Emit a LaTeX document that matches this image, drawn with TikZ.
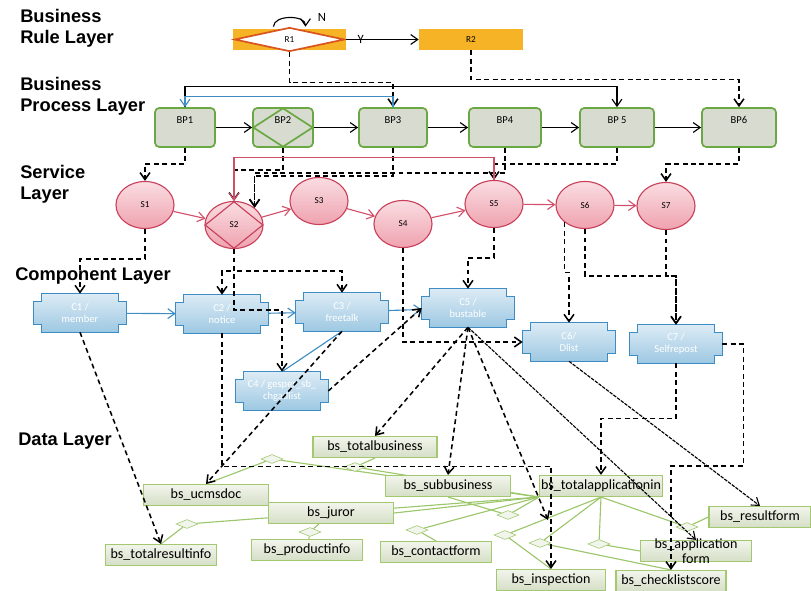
\documentclass[tikz,border=0pt]{standalone}
\usepackage{fontspec}
\setmainfont{Carlito}
\newfontfamily\layerfont{Liberation Sans}
\usetikzlibrary{arrows.meta}
\usetikzlibrary{shapes.geometric}
\usetikzlibrary{backgrounds}
\definecolor{RuleOrange}{HTML}{F5B325}
\definecolor{RuleRed}{HTML}{D9541E}
\definecolor{ProcFill}{HTML}{D8DCD0}
\definecolor{ProcLine}{HTML}{6AA843}
\definecolor{SvcLine}{HTML}{C8405A}
\definecolor{SvcTop}{HTML}{FADDE2}
\definecolor{SvcBot}{HTML}{EFA2AF}
\definecolor{PinkEdge}{HTML}{D24F6A}
\definecolor{CompLine}{HTML}{3E8CC4}
\definecolor{CompTop}{HTML}{DCEBF5}
\definecolor{CompBot}{HTML}{9DC8E2}
\definecolor{DataLine}{HTML}{A3C870}
\definecolor{DataTop}{HTML}{F2F5EC}
\definecolor{DataBot}{HTML}{D5DEC6}
\definecolor{RelGreen}{HTML}{9CC66A}
\tikzstyle{LayerText}=[anchor=north west, inner sep=0pt, align=left, font=\layerfont\bfseries\fontsize{13}{15}\selectfont]
\tikzstyle{RuleBox}=[rectangle, fill=RuleOrange, minimum width=2.825cm, minimum height=0.525cm, inner sep=0pt, font=\fontsize{6.5}{7}\selectfont]
\tikzstyle{RuleDiamond}=[diamond, draw=RuleRed, very thick, fill=white, minimum width=2.75cm, minimum height=0.6cm, inner sep=0pt, font=\fontsize{6.5}{7}\selectfont]
\tikzstyle{ProcNode}=[rectangle, rounded corners=3pt, draw=ProcLine, very thick, fill=ProcFill, minimum width=1.5cm, minimum height=0.975cm, inner sep=0pt, text height=6pt, text depth=12pt, font=\fontsize{7.5}{9}\selectfont]
\tikzstyle{ProcDiamond}=[diamond, draw=ProcLine, very thick, minimum width=1.5cm, minimum height=0.975cm, inner sep=0pt]
\tikzstyle{SvcNode}=[ellipse, draw=SvcLine, thick, top color=SvcTop, bottom color=SvcBot, minimum width=1.45cm, minimum height=1.175cm, inner sep=0pt, font=\fontsize{6.5}{8}\selectfont]
\tikzstyle{SvcDiamond}=[diamond, draw=SvcLine, thick, minimum width=1.45cm, minimum height=1.175cm, inner sep=0pt]
\tikzstyle{CompNode}=[rectangle, minimum width=2.3cm, minimum height=0.95cm, inner sep=0pt, align=center, text=white, font=\fontsize{7.5}{8.5}\selectfont]
\tikzstyle{CompShape}=[draw=CompLine, thick, top color=CompTop, bottom color=CompBot]
\tikzstyle{DataNode}=[rectangle, draw=DataLine, thick, top color=DataTop, bottom color=DataBot, minimum height=0.525cm, inner sep=1pt, font=\fontsize{10}{11}\selectfont]
\tikzstyle{RelDiamond}=[diamond, draw=RelGreen, fill=DataTop, minimum width=0.55cm, minimum height=0.225cm, inner sep=0pt]
\tikzstyle{RelLine}=[RelGreen, thick]
\tikzstyle{FlowEdge}=[->, thick]
\tikzstyle{SvcEdge}=[->, thick, PinkEdge]
\tikzstyle{CompEdge}=[->, thick, CompLine]
\tikzstyle{DepEdge}=[->, line width=1.1pt, dash pattern=on 3.5pt off 2.5pt]
\tikzstyle{DataEdge}=[->, thick, dash pattern=on 2.5pt off 0.8pt]

\begin{document}
\begin{tikzpicture}[x=0.025cm, y=-0.025cm, >={Straight Barb[length=5pt,width=7pt]}]
\useasboundingbox (0,0) rectangle (811,591);

% layers
\node[LayerText](lrule) at (20,9) {Business\\Rule Layer};
\node[LayerText](lproc) at (20,77) {Business\\Process Layer};
\node[LayerText](lsvc) at (20,165) {Service\\Layer};
\node[LayerText](lcomp) at (15,267) {Component Layer};
\node[LayerText](ldata) at (18,433) {Data Layer};

% business rules
\node[RuleBox](r1box) at (289.5,39.5) {};
\node[RuleDiamond](r1) at (289.5,39.5) {R1};
\node[RuleBox, minimum width=2.6cm](r2) at (471,39.5) {R2};
\node[font=\fontsize{9}{10}\selectfont](nmark) at (322,17) {N};
\draw[FlowEdge]([xshift=-0.4cm]r1.north) .. controls +(0,-12) and +(0,-12) .. ([xshift=0.4cm]r1.north);
\draw[FlowEdge](r1box) -- node[pos=0.2, inner sep=0pt, font=\fontsize{9}{10}\selectfont](ymark) {Y} (r2);

% business processes
\node[ProcNode](bp1) at (185,127.5) {BP1};
\node[ProcNode](bp2) at (283,127.5) {BP2};
\node[ProcDiamond](bp2d) at (283,127.5) {};
\node[ProcNode, minimum width=1.7cm](bp3) at (393,127.5) {BP3};
\node[ProcNode, minimum width=1.8cm](bp4) at (505,127.5) {BP4};
\node[ProcNode, minimum width=1.85cm](bp5) at (617,127.5) {BP 5};
\node[ProcNode, minimum width=1.85cm](bp6) at (739,127.5) {BP6};
\foreach \a/\b in {bp1/bp2, bp2/bp3, bp3/bp4, bp4/bp5, bp5/bp6}
  \draw[FlowEdge](\a) -- (\b);

\draw[DepEdge](r1.south) -- ++(0,30) -| (bp3.north);
\draw[DepEdge](r2.south) -- ++(0,29) -| (bp6.north);
\draw[FlowEdge](bp1.north) -- ++(0,-21) -| (bp5.north);
\draw[CompEdge](bp3.north) -- ++(0,-11) -| (bp1.north);

% services
\node[SvcNode](s1) at (145,205) {S1};
\node[SvcNode](s2) at (234,225) {S2};
\node[SvcDiamond](s2d) at (234,225) {};
\node[SvcNode](s3) at (319,201) {S3};
\node[SvcNode](s4) at (403,224) {S4};
\node[SvcNode](s5) at (494,204) {S5};
\node[SvcNode](s6) at (585,205) {S6};
\node[SvcNode](s7) at (666,206) {S7};
\foreach \a/\b in {s1/s2, s2/s3, s3/s4, s4/s5, s5/s6, s6/s7}
  \draw[SvcEdge](\a) -- (\b);

\draw[DepEdge](bp1.south) -- ++(0,16) -| (s1.north);
\draw[DepEdge](bp2.south) -- ++(0,22) -| (s2.north);
\draw[DepEdge](bp4.south) -- ++(0,25) -| (s2.40);
\draw[DepEdge](bp3.south) -- ++(0,28) -| (s2.40);
\draw[DepEdge](bp5.south) -- ++(0,16) -| (s5.north);
\draw[DepEdge](bp6.south) -- ++(0,16) -| (s7.north);
\draw[SvcEdge](s5.north) -- ++(0,-22) -| (s2.north);

% components
\node[CompNode](c1) at (80,313) {C1 /\\member};
\node[CompNode](c2) at (222,314) {C2 /\\notice};
\node[CompNode](c3) at (342,312) {C3 /\\freetalk};
\node[CompNode](c4) at (282,391) {C4 / gesper\_sb\_\\chgadlist};
\node[CompNode](c5) at (468,308) {C5 /\\bustable};
\node[CompNode](c6) at (569,342) {C6/\\Dlist};
\node[CompNode](c7) at (676,344) {C7 /\\Selfrepost};

\draw[CompEdge](c1) -- (c2);
\draw[CompEdge](c2) -- (c3);
\draw[CompEdge](c3) -- (c5);
\draw[CompLine, thick](c3.south) -- (c4.north);

\draw[DepEdge](s1.south) -- ++(0,30) -| (c1.north);
\draw[DepEdge](s2.south) -- ++(0,22) -| (c2.north);
\draw[DepEdge](s2.south) -- ++(0,22) -| (c3.north);
\draw[DepEdge](s2.south) -- ++(0,61) -| (c4.north);
\draw[DepEdge](s4.south) |- (c6.west);
\draw[DepEdge](s5.south) -- ++(0,30) -| (c5.north);
\draw[DepEdge](s6.220) -- ++(0,50) -| (c6.north);
\draw[DepEdge](s6.south) -- ++(0,47) -| (c7.north);
\draw[DepEdge](s7.south) -- ++(0,46) -| (c7.north);
\draw[DepEdge](c4.east) -- (c5.west);

% data
\node[DataNode, minimum width=3.1cm](tbus) at (375,447) {bs\_totalbusiness};
\node[DataNode, minimum width=3.125cm](ucms) at (206,495) {bs\_ucmsdoc};
\node[DataNode, minimum width=3.125cm](sub) at (448,486) {bs\_subbusiness};
\node[DataNode, minimum width=3.075cm](tapp) at (601,486) {bs\_totalapplicationin};
\node[DataNode, minimum width=3.125cm](juror) at (331,513) {bs\_juror};
\node[DataNode, minimum width=2.775cm](tres) at (161,555) {bs\_totalresultinfo};
\node[DataNode, minimum width=2.775cm](prod) at (307,550) {bs\_productinfo};
\node[DataNode, minimum width=2.775cm](cont) at (436,552) {bs\_contactform};
\node[DataNode, minimum width=2.55cm](res) at (760,517) {bs\_resultform};
\node[DataNode, minimum width=2.775cm, inner ysep=-1.6pt, align=center](app) at (696,551) {bs\_application\\form};
\node[DataNode, minimum width=2.725cm](insp) at (551,580) {bs\_inspection};
\node[DataNode, minimum width=2.75cm](chk) at (671,581) {bs\_checklistscore};

\node[RelDiamond](d1) at (272,459) {};
\node[RelDiamond](d2) at (355,467) {};
\node[RelDiamond](d3) at (187,524) {};
\node[RelDiamond](d4) at (310,532) {};
\node[RelDiamond](d5) at (417,530) {};
\node[RelDiamond](d6) at (508,515) {};
\node[RelDiamond](d7) at (505,535) {};
\node[RelDiamond](d8) at (540,543) {};
\node[RelDiamond](d9) at (599,544) {};
\node[RelDiamond](d10) at (687,527) {};
\coordinate(c5tip) at (548,520);

\draw[DepEdge](c1.south) -- (tres.north);
\draw[DepEdge](c3.south) -- (ucms.north);
\draw[DepEdge](c5.south) -- (tbus.north);
\draw[DepEdge](c5.south) -- (sub.north);
\draw[DepEdge](c5.south) -- (c5tip);
\draw[DataEdge](c5.south) -- (app.north);
\draw[DataEdge](c6.south) -- (res.north);
\draw[DepEdge](c2.south) -- ++(0,133) -| (insp.north);
\draw[DepEdge](c7.south) -- ++(0,55) -| (tapp.north);
\draw[DepEdge](c7.east) -- ++(21,0) -- ++(0,122) -| (chk.north);

\begin{scope}[on background layer]
\foreach \cn in {c1,c2,c3,c4,c5,c6,c7}
  \filldraw[CompShape]([xshift=0.2cm]\cn.north west) -- ([xshift=-0.2cm]\cn.north east)
    -- ([xshift=-0.2cm,yshift=-0.2cm]\cn.north east) -- ([yshift=-0.2cm]\cn.north east)
    -- ([yshift=0.2cm]\cn.south east) -- ([xshift=-0.2cm,yshift=0.2cm]\cn.south east)
    -- ([xshift=-0.2cm]\cn.south east) -- ([xshift=0.2cm]\cn.south west)
    -- ([xshift=0.2cm,yshift=0.2cm]\cn.south west) -- ([yshift=0.2cm]\cn.south west)
    -- ([yshift=-0.2cm]\cn.north west) -- ([xshift=0.2cm,yshift=-0.2cm]\cn.north west) -- cycle;
\draw[RelLine](ucms.north) -- (d1) -- (tapp.south west);
\draw[RelLine](tbus.south) -- (d2) -- (tapp.south west);
\draw[RelLine](tres.north) -- (d3) -- (tapp.south west);
\draw[RelLine](juror) -- (d4) -- (prod);
\draw[RelLine](juror.east) -- (tapp.south west);
\draw[RelLine](cont.north) -- (d5) -- (tapp.south west);
\draw[RelLine](sub.south) -- (d6) -- (tapp.south west);
\draw[RelLine](tapp.south) -- (d7) -- (insp.north);
\draw[RelLine](tapp.south) -- (d8) -- (chk.north);
\draw[RelLine](tapp.south) -- (d9) -- (app.west);
\draw[RelLine](tapp.south) -- (d10) -- (res.west);
\end{scope}
\end{tikzpicture}
\end{document}
